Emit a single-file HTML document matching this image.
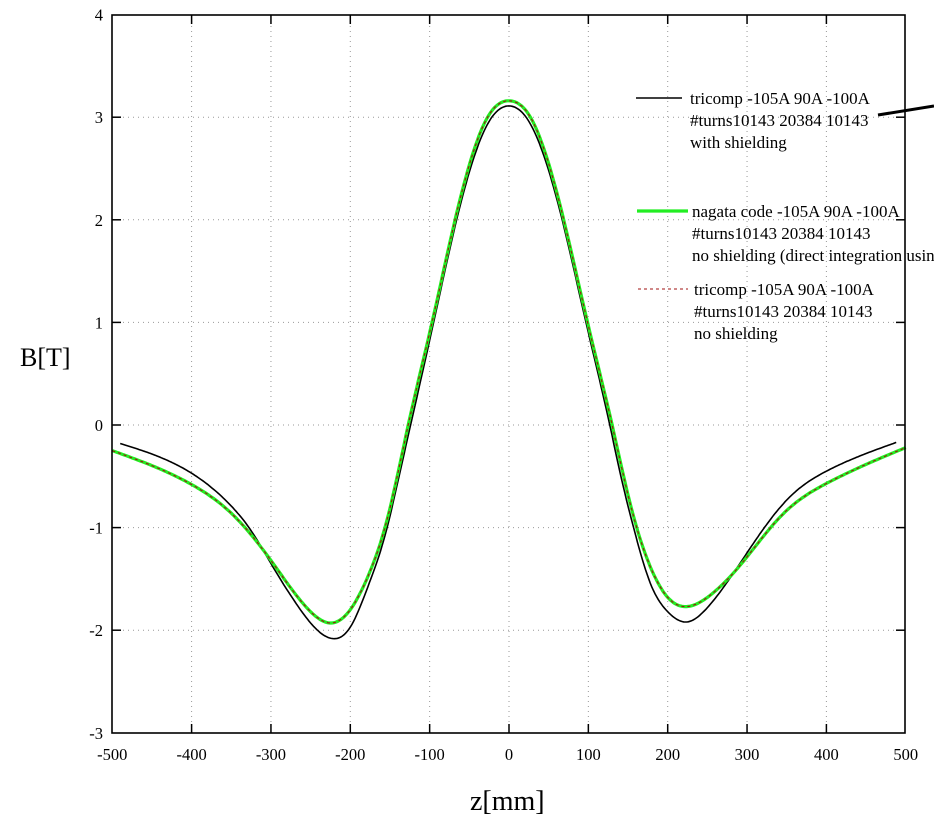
<!DOCTYPE html>
<html><head><meta charset="utf-8"><style>
html,body{margin:0;padding:0;background:#fff;}
svg{display:block;font-family:"Liberation Serif",serif;}
</style></head><body>
<svg id="s" width="934" height="826" viewBox="0 0 934 826" xmlns="http://www.w3.org/2000/svg">
<rect width="934" height="826" fill="#fff"/>
<g id="grid" stroke="#999" stroke-width="1" stroke-dasharray="1,4"></g>
<g id="ticks" stroke="#000" stroke-width="1.5"></g>
<g id="labels" font-size="16.5" fill="#000"></g>
<path id="blk" fill="none" stroke="#000" stroke-width="1.6"/>
<path id="grn" fill="none" stroke="#22ee22" stroke-width="3.2"/>
<path id="red" fill="none" stroke="#a01010" stroke-width="1.1" stroke-dasharray="3,3"/>
<rect x="112" y="15" width="793" height="718" fill="none" stroke="#000" stroke-width="1.6"/>
<text x="20" y="366" font-size="26">B[T]</text>
<text x="470" y="810" font-size="28">z[mm]</text>
<line x1="636" y1="98" x2="682" y2="98" stroke="#000" stroke-width="1.6"/>
<line x1="878" y1="115" x2="934" y2="106" stroke="#000" stroke-width="3"/>
<g font-size="17">
<text x="690" y="104">tricomp -105A 90A -100A</text>
<text x="690" y="126">#turns10143 20384 10143</text>
<text x="690" y="148">with shielding</text>
<text x="692" y="217">nagata code -105A 90A -100A</text>
<text x="692" y="239">#turns10143 20384 10143</text>
<text x="692" y="261">no shielding (direct integration using</text>
<text x="694" y="295">tricomp -105A 90A -100A</text>
<text x="694" y="317">#turns10143 20384 10143</text>
<text x="694" y="339">no shielding</text>
</g>
<line x1="637" y1="211" x2="688" y2="211" stroke="#22ee22" stroke-width="3.2"/>
<line x1="638" y1="289" x2="688" y2="289" stroke="#a01010" stroke-width="1.1" stroke-dasharray="3,3"/>
</svg>
<script>
var NS="http://www.w3.org/2000/svg";
function X(z){return 509+z*0.7935;}
function Y(b){return 425-b*102.6;}
function el(p,t,a,txt){var e=document.createElementNS(NS,t);for(var k in a)e.setAttribute(k,a[k]);if(txt!==undefined)e.textContent=txt;document.getElementById(p).appendChild(e);}
for(var z=-400;z<=400;z+=100){el("grid","line",{x1:X(z),y1:16,x2:X(z),y2:732});
 el("ticks","line",{x1:X(z),y1:733,x2:X(z),y2:724});el("ticks","line",{x1:X(z),y1:15,x2:X(z),y2:24});}
for(var z=-500;z<=500;z+=100){el("labels","text",{x:X(z),y:760,"text-anchor":"middle"},String(z));}
for(var b=-2;b<=3;b++){el("grid","line",{x1:113,y1:Y(b),x2:904,y2:Y(b)});
 el("ticks","line",{x1:112,y1:Y(b),x2:121,y2:Y(b)});el("ticks","line",{x1:905,y1:Y(b),x2:896,y2:Y(b)});}
for(var b=-3;b<=4;b++){el("labels","text",{x:103,y:Y(b)+6,"text-anchor":"end"},String(b));}
function spline(P){
 var n=P.length,x=P.map(function(p){return p[0]}),y=P.map(function(p){return p[1]});
 var h=[],al=[],l=[1],mu=[0],zz=[0],c=new Array(n).fill(0),b=[],d=[];
 for(var i=0;i<n-1;i++)h[i]=x[i+1]-x[i];
 for(var i=1;i<n-1;i++)al[i]=3/h[i]*(y[i+1]-y[i])-3/h[i-1]*(y[i]-y[i-1]);
 for(var i=1;i<n-1;i++){l[i]=2*(x[i+1]-x[i-1])-h[i-1]*mu[i-1];mu[i]=h[i]/l[i];zz[i]=(al[i]-h[i-1]*zz[i-1])/l[i];}
 l[n-1]=1;zz[n-1]=0;
 for(var j=n-2;j>=0;j--){c[j]=zz[j]-mu[j]*c[j+1];b[j]=(y[j+1]-y[j])/h[j]-h[j]*(c[j+1]+2*c[j])/3;d[j]=(c[j+1]-c[j])/(3*h[j]);}
 var s="";var j=0;
 for(var t=x[0];t<=x[n-1]+1e-9;t+=2){while(j<n-2&&t>x[j+1])j++;var dx=t-x[j];var v=y[j]+b[j]*dx+c[j]*dx*dx+d[j]*dx*dx*dx;
  s+=(s?" L":"M")+X(t).toFixed(1)+","+Y(v).toFixed(1);}
 return s;}
var G=[[-500,-0.25],[-400,-0.58],[-350,-0.86],[-300,-1.32],[-270,-1.64],[-250,-1.82],[-224,-1.93],[-200,-1.80],[-178,-1.48],[-156,-0.99],[-140,-0.47],[-127,0],[-97,1],[-68,2],[-27,3],[0,3.16],[27,3],[69,2],[99,1],[130,0],[143,-0.45],[158,-0.92],[178,-1.38],[200,-1.68],[224,-1.77],[250,-1.68],[291,-1.37],[345,-0.87],[400,-0.57],[500,-0.22]];
var B=[[-490,-0.18],[-400,-0.47],[-350,-0.79],[-325,-1.03],[-300,-1.35],[-270,-1.72],[-250,-1.93],[-224,-2.08],[-200,-1.97],[-178,-1.58],[-156,-1.07],[-140,-0.55],[-124,0],[-95,1],[-66,2],[-25,2.96],[0,3.11],[25,2.96],[67,2],[97,1],[127,0],[141,-0.5],[157,-1.0],[178,-1.54],[200,-1.82],[224,-1.92],[250,-1.78],[291,-1.35],[320,-1.02],[354,-0.70],[400,-0.45],[488,-0.17]];
var dg=spline(G);
document.getElementById("grn").setAttribute("d",dg);
document.getElementById("red").setAttribute("d",dg);
document.getElementById("blk").setAttribute("d",spline(B));
</script>
</body></html>
